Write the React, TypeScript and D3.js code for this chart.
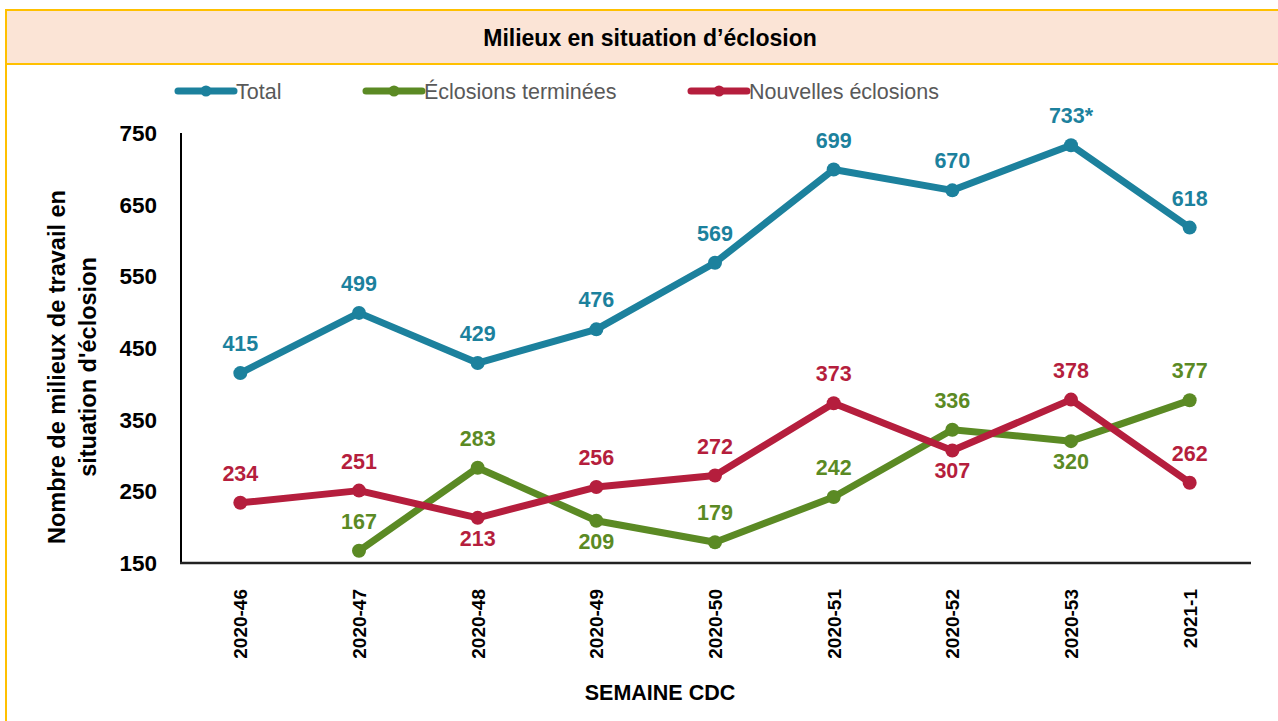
import { useEffect, useRef } from "react";
import * as d3 from "d3";

const weeks = ["2020-46", "2020-47", "2020-48", "2020-49", "2020-50", "2020-51", "2020-52", "2020-53", "2021-1"];
const total = [415, 499, 429, 476, 569, 699, 670, 733, 618];
const terminees = [null, 167, 283, 209, 179, 242, 336, 320, 377];
const nouvelles = [234, 251, 213, 256, 272, 373, 307, 378, 262];
// label placement per point: 1 = above, -1 = below
const totalPos = [1, 1, 1, 1, 1, 1, 1, 1, 1];
const termineesPos = [0, 1, 1, -1, 1, 1, 1, -1, 1];
const nouvellesPos = [1, 1, -1, 1, 1, 1, -1, 1, 1];
const totalLabels = ["415", "499", "429", "476", "569", "699", "670", "733*", "618"];
const yTicks = [150, 250, 350, 450, 550, 650, 750];

const App = () => {
  const svgRef = useRef<SVGSVGElement | null>(null);

  const width = 1278;
  const height = 721;

  useEffect(() => {
    if (!svgRef.current) return;
    const svg = d3.select(svgRef.current);
    svg.selectAll("*").remove();

    const font = "'Liberation Sans', Arial, sans-serif";
    const frameColor = "#FFC000";
    const teal = "#1C819D";
    const green = "#5B8A24";
    const red = "#B51E3D";

    // frame + title band
    svg.append("rect")
      .attr("x", 6).attr("y", 10)
      .attr("width", width + 10).attr("height", 54)
      .attr("fill", "#FBE4D6")
      .attr("stroke", frameColor).attr("stroke-width", 2);
    svg.append("line")
      .attr("x1", 6).attr("x2", 6).attr("y1", 10).attr("y2", height + 5)
      .attr("stroke", frameColor).attr("stroke-width", 2);
    svg.append("text")
      .attr("x", 650).attr("y", 46)
      .attr("text-anchor", "middle")
      .attr("font-family", font).attr("font-size", 23).attr("font-weight", "bold")
      .attr("fill", "#000")
      .text("Milieux en situation d’éclosion");

    // scales
    const x = d3.scaleBand().domain(weeks).range([181, 1249]).padding(0);
    const cx = (w: string) => (x(w) as number) + x.bandwidth() / 2;
    const y = d3.scaleLinear().domain([150, 750]).range([563, 133]);

    // axes lines
    svg.append("line")
      .attr("x1", 181).attr("x2", 181).attr("y1", y(750)).attr("y2", y(150))
      .attr("stroke", "#000").attr("stroke-width", 2);
    svg.append("line")
      .attr("x1", 180).attr("x2", 1251).attr("y1", y(150)).attr("y2", y(150))
      .attr("stroke", "#222").attr("stroke-width", 2.5);

    // y tick labels
    svg.append("g").selectAll("text").data(yTicks).join("text")
      .attr("x", 157).attr("y", d => y(d))
      .attr("dy", "0.36em")
      .attr("text-anchor", "end")
      .attr("font-family", font).attr("font-size", 22.5).attr("font-weight", "bold")
      .attr("fill", "#000")
      .text(d => d);

    // x tick labels
    svg.append("g").selectAll("text").data(weeks).join("text")
      .attr("transform", d => `translate(${cx(d)},589) rotate(-90)`)
      .attr("dy", "0.36em")
      .attr("text-anchor", "end")
      .attr("font-family", font).attr("font-size", 19).attr("font-weight", "bold")
      .attr("fill", "#000")
      .text(d => d);

    // axis titles
    const yTitle = svg.append("text")
      .attr("transform", "translate(0,367) rotate(-90)")
      .attr("text-anchor", "middle")
      .attr("font-family", font).attr("font-size", 23.5).attr("font-weight", "bold")
      .attr("fill", "#000");
    yTitle.append("tspan").attr("x", 0).attr("y", 65).text("Nombre de milieux de travail en");
    yTitle.append("tspan").attr("x", 0).attr("y", 96).text("situation d'éclosion");

    svg.append("text")
      .attr("x", 660).attr("y", 700)
      .attr("text-anchor", "middle")
      .attr("font-family", font).attr("font-size", 21.5).attr("font-weight", "bold")
      .attr("fill", "#000")
      .text("SEMAINE CDC");

    // series
    const series = [
      { values: total, color: teal, pos: totalPos, labels: totalLabels },
      { values: terminees, color: green, pos: termineesPos, labels: terminees.map(v => (v == null ? "" : String(v))) },
      { values: nouvelles, color: red, pos: nouvellesPos, labels: nouvelles.map(v => String(v)) },
    ];

    const line = d3.line<number | null>()
      .defined(d => d != null)
      .x((_, i) => cx(weeks[i]))
      .y(d => y(d as number));

    // draw green first, then total, then red on top
    [series[1], series[0], series[2]].forEach(s => {
      const g = svg.append("g");
      g.append("path")
        .attr("d", line(s.values as (number | null)[]))
        .attr("fill", "none")
        .attr("stroke", s.color)
        .attr("stroke-width", 7)
        .attr("stroke-linejoin", "round");
      const pts = s.values
        .map((v, i) => ({ v, i }))
        .filter(d => d.v != null);
      g.selectAll("circle").data(pts).join("circle")
        .attr("cx", d => cx(weeks[d.i]))
        .attr("cy", d => y(d.v as number))
        .attr("r", 7)
        .attr("fill", s.color);
      g.selectAll("text").data(pts).join("text")
        .attr("x", d => cx(weeks[d.i]))
        .attr("y", d => y(d.v as number) + (s.pos[d.i] > 0 ? -22 : 28))
        .attr("text-anchor", "middle")
        .attr("font-family", font).attr("font-size", 21.5).attr("font-weight", "bold")
        .attr("fill", s.color)
        .text(d => s.labels[d.i]);
    });

    // legend
    const legend = [
      { name: "Total", color: teal, x: 178 },
      { name: "Éclosions terminées", color: green, x: 366 },
      { name: "Nouvelles éclosions", color: red, x: 691 },
    ];
    const lg = svg.append("g").selectAll("g").data(legend).join("g")
      .attr("transform", d => `translate(${d.x},91)`);
    lg.append("line")
      .attr("x1", 0).attr("x2", 56).attr("y1", 0).attr("y2", 0)
      .attr("stroke", d => d.color).attr("stroke-width", 7)
      .attr("stroke-linecap", "round");
    lg.append("circle")
      .attr("cx", 28).attr("cy", 0).attr("r", 5.5)
      .attr("fill", d => d.color);
    lg.append("text")
      .attr("x", 58).attr("y", 0).attr("dy", "0.36em")
      .attr("font-family", font).attr("font-size", 21.5)
      .attr("fill", "#595959")
      .text(d => d.name);
  }, []);

  return (
    <div style={{ position: "absolute", left: 0, top: 0, width: `${width}px`, height: `${height}px`, background: "#fff", overflow: "hidden" }}>
      <svg ref={svgRef} width={width} height={height} viewBox={`0 0 ${width} ${height}`} />
    </div>
  );
};

export default App;
